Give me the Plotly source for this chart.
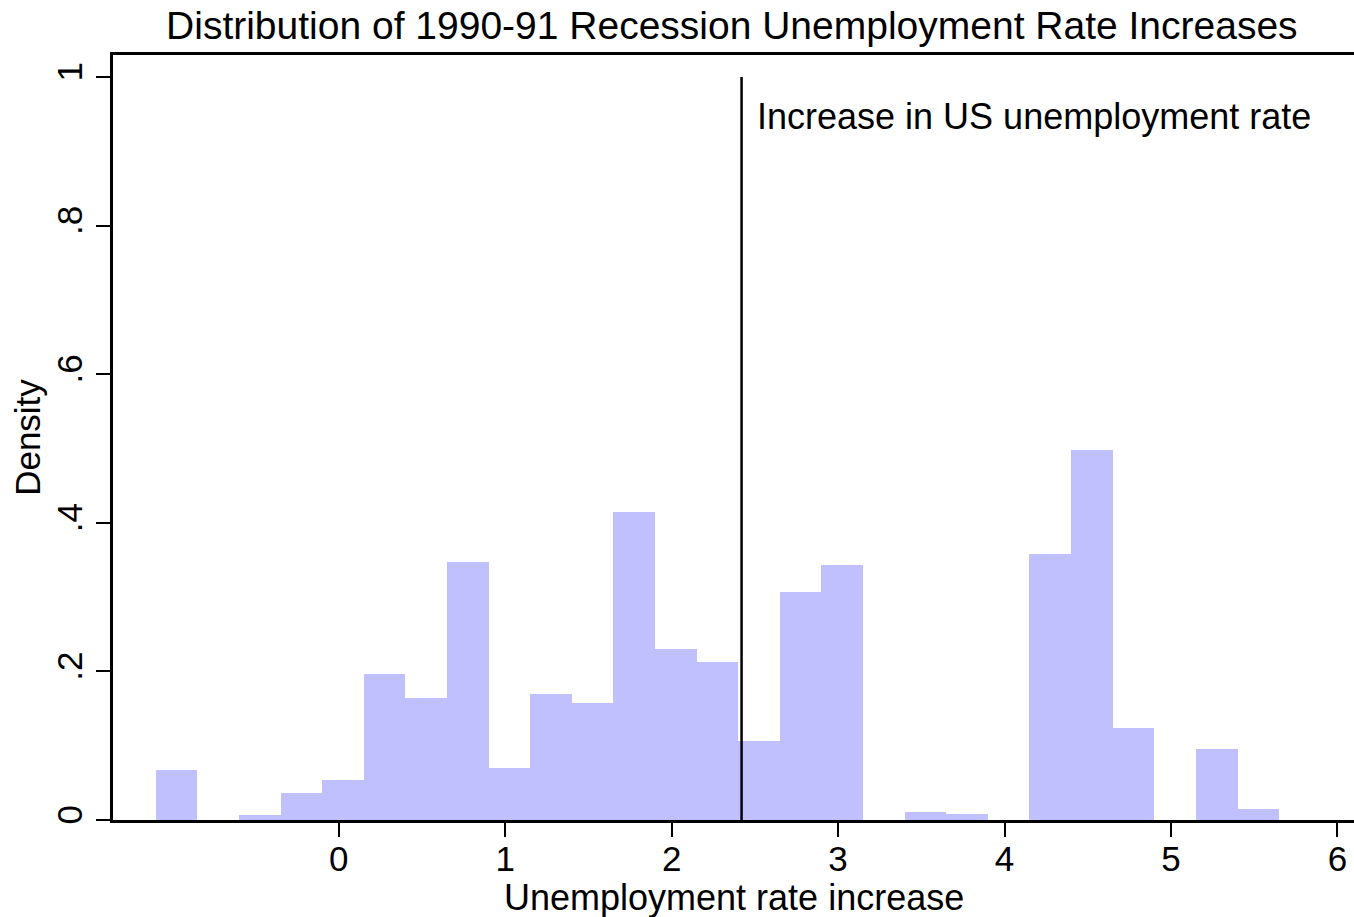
import plotly.graph_objects as go

# Histogram bins (left edges, width 0.25) and density heights
bin_left = [-1.10, -0.85, -0.60, -0.35, -0.10, 0.15, 0.40, 0.65, 0.90, 1.15,
            1.40, 1.65, 1.90, 2.15, 2.40, 2.65, 2.90, 3.15, 3.40, 3.65,
            3.90, 4.15, 4.40, 4.65, 4.90, 5.15, 5.40]
density = [0.067, 0.0, 0.0067, 0.037, 0.054, 0.197, 0.164, 0.347, 0.070, 0.170,
           0.158, 0.415, 0.230, 0.213, 0.107, 0.307, 0.343, 0.0, 0.011, 0.008,
           0.0, 0.358, 0.498, 0.124, 0.0, 0.095, 0.015]
bin_width = 0.25

us_increase = 2.42

x_ticks = [0, 1, 2, 3, 4, 5, 6]
y_ticks = [0, 0.2, 0.4, 0.6, 0.8, 1]
y_tick_text = ["0", ".2", ".4", ".6", ".8", "1"]

FONT = "Liberation Sans, Arial, Helvetica, sans-serif"

fig = go.Figure()
fig.add_trace(go.Bar(
    x=[b + bin_width / 2 for b in bin_left],
    y=density,
    width=bin_width,
    marker=dict(color="rgb(192,192,255)", line=dict(width=0)),
    hoverinfo="skip",
))

# Reference line at the US-wide increase
fig.add_trace(go.Scatter(
    x=[us_increase, us_increase], y=[0, 1],
    mode="lines", line=dict(color="black", width=2.5),
    hoverinfo="skip",
))

fig.add_annotation(
    x=us_increase, y=0.9475, xref="x", yref="y",
    text="Increase in US unemployment rate",
    showarrow=False, xanchor="left", yanchor="middle", xshift=13,
    font=dict(family=FONT, size=36, color="black"),
)

# x-axis title placed below the tick labels
fig.add_annotation(
    x=0.5, y=-0.1007, xref="paper", yref="paper",
    text="Unemployment rate increase",
    showarrow=False, xanchor="center", yanchor="middle",
    font=dict(family=FONT, size=36, color="black"),
)

fig.update_layout(
    width=1354, height=917,
    margin=dict(l=113, r=0, t=55, b=97),
    paper_bgcolor="white", plot_bgcolor="white",
    showlegend=False,
    bargap=0,
    title=dict(
        text="Distribution of 1990-91 Recession Unemployment Rate Increases",
        x=0.5405, xanchor="center", y=0.972, yanchor="middle",
        font=dict(family=FONT, size=39, color="black"),
    ),
    font=dict(family=FONT, size=35, color="black"),
)

fig.update_xaxes(
    range=[-1.357, 6.10],
    tickvals=x_ticks, ticktext=[str(t) for t in x_ticks],
    ticks="outside", ticklen=14, tickwidth=2, tickcolor="black",
    ticklabelstandoff=-8,
    showline=True, linecolor="black", linewidth=2.5, mirror=True,
    showgrid=False, zeroline=False,
    tickfont=dict(family=FONT, size=35, color="black"),
)

fig.update_yaxes(
    range=[0, 1.0296],
    tickvals=y_ticks, ticktext=y_tick_text, tickangle=-90,
    ticks="outside", ticklen=14, tickwidth=2, tickcolor="black",
    showline=True, linecolor="black", linewidth=2.5,
    showgrid=False, zeroline=False,
    tickfont=dict(family=FONT, size=35, color="black"),
    title=dict(text="Density", standoff=0,
               font=dict(family=FONT, size=35, color="black")),
)

fig.write_html("out.html")
